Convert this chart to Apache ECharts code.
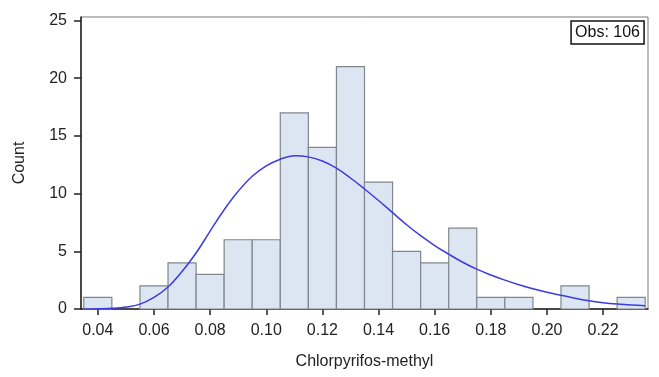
<!DOCTYPE html>
<html>
<head>
<meta charset="utf-8">
<title>Chlorpyrifos-methyl histogram</title>
<script src="https://cdn.jsdelivr.net/npm/echarts@6/dist/echarts.min.js"></script>
<style>
  html, body { margin: 0; padding: 0; background: #ffffff; }
  #chart { width: 659px; height: 377px; }
</style>
</head>
<body>
<div id="chart"></div>
<script>
// Histogram bins (centre of each 0.01-wide bin) and their counts
const binCenters = [0.04, 0.05, 0.06, 0.07, 0.08, 0.09, 0.10, 0.11, 0.12, 0.13,
                    0.14, 0.15, 0.16, 0.17, 0.18, 0.19, 0.20, 0.21, 0.22, 0.23];
const binCounts  = [1, 0, 2, 4, 3, 6, 6, 17, 14, 21,
                    11, 5, 4, 7, 1, 1, 0, 2, 0, 1];
const binWidth = 0.01;

// Fitted density curve, scaled to counts
const curveX = [0.035, 0.040, 0.045, 0.050, 0.055, 0.060, 0.065, 0.070, 0.075, 0.080,
                0.085, 0.090, 0.095, 0.100, 0.105, 0.110, 0.115, 0.120, 0.125, 0.130,
                0.135, 0.140, 0.145, 0.150, 0.155, 0.160, 0.165, 0.170, 0.175, 0.180,
                0.185, 0.190, 0.195, 0.200, 0.205, 0.210, 0.215, 0.220, 0.225, 0.230, 0.235];
const curveY = [0.0, 0.02, 0.06, 0.17, 0.42, 1.0, 1.9, 3.25, 4.85, 6.75,
                8.6, 10.2, 11.5, 12.4, 12.98, 13.28, 13.18, 12.82, 12.2, 11.35,
                10.4, 9.4, 8.35, 7.3, 6.35, 5.5, 4.75, 4.05, 3.45, 2.95,
                2.5, 2.1, 1.75, 1.45, 1.2, 0.93, 0.71, 0.55, 0.43, 0.34, 0.28];

// Axis tick labels
const xTicks = [0.04, 0.06, 0.08, 0.10, 0.12, 0.14, 0.16, 0.18, 0.20, 0.22];
const yTicks = [0, 5, 10, 15, 20, 25];

const obsLabel = 'Obs: 106';

const FONT = '"Liberation Sans", Arial, Helvetica, sans-serif';
const TEXT = '#222222';

const histData = binCenters.map((c, i) => [c, binCounts[i]]);
const curveData = curveX.map((x, i) => [x, curveY[i]]);

const chart = echarts.init(document.getElementById('chart'), null, { renderer: 'canvas' });

chart.setOption({
  animation: false,
  backgroundColor: '#ffffff',
  textStyle: { fontFamily: FONT },
  grid: {
    left: 81, right: 11, top: 17, bottom: 68,
    show: true,
    borderColor: '#7a7a7a',
    borderWidth: 1,
    backgroundColor: 'transparent'
  },
  title: {
    text: obsLabel,
    right: 15,
    top: 21,
    padding: [4, 4, 3, 4],
    borderColor: '#111111',
    borderWidth: 1.5,
    textStyle: { fontFamily: FONT, fontSize: 16, fontWeight: 'normal', color: '#111111' }
  },
  xAxis: {
    type: 'value',
    min: 0.034,
    max: 0.236,
    name: 'Chlorpyrifos-methyl',
    nameLocation: 'middle',
    nameGap: 45,
    nameTextStyle: { fontFamily: FONT, fontSize: 16, color: TEXT },
    splitLine: { show: false },
    axisLine: { show: true, onZero: false, lineStyle: { color: '#222222', width: 1.5 } },
    axisTick: { show: true, length: 6, customValues: xTicks, lineStyle: { color: '#222222', width: 1.5 } },
    axisLabel: {
      customValues: xTicks,
      margin: 14,
      fontFamily: FONT,
      fontSize: 16,
      color: TEXT,
      formatter: v => v.toFixed(2)
    }
  },
  yAxis: {
    type: 'value',
    min: 0,
    max: 25.3,
    name: 'Count',
    nameLocation: 'middle',
    nameGap: 53,
    nameTextStyle: { fontFamily: FONT, fontSize: 16, color: TEXT },
    splitLine: { show: false },
    axisLine: { show: true, lineStyle: { color: '#222222', width: 1.5 } },
    axisTick: { show: true, length: 7, customValues: yTicks, lineStyle: { color: '#222222', width: 1.5 } },
    axisLabel: {
      customValues: yTicks,
      margin: 14,
      fontFamily: FONT,
      fontSize: 16,
      color: TEXT
    }
  },
  series: [
    {
      type: 'custom',
      name: 'Histogram',
      data: histData,
      encode: { x: 0, y: 1 },
      z: 2,
      renderItem: function (params, api) {
        const center = api.value(0);
        const count = api.value(1);
        if (!count) return null;
        const topLeft = api.coord([center - binWidth / 2, count]);
        const bottomRight = api.coord([center + binWidth / 2, 0]);
        return {
          type: 'rect',
          shape: {
            x: topLeft[0],
            y: topLeft[1],
            width: bottomRight[0] - topLeft[0],
            height: bottomRight[1] - topLeft[1]
          },
          style: { fill: '#dce6f2', stroke: '#80868c', lineWidth: 1.2 }
        };
      }
    },
    {
      type: 'line',
      name: 'Density',
      data: curveData,
      smooth: 0.4,
      showSymbol: false,
      z: 5,
      clip: true,
      lineStyle: { color: '#3b3be0', width: 1.5 },
      itemStyle: { color: '#3b3be0' }
    }
  ]
});
</script>
</body>
</html>
